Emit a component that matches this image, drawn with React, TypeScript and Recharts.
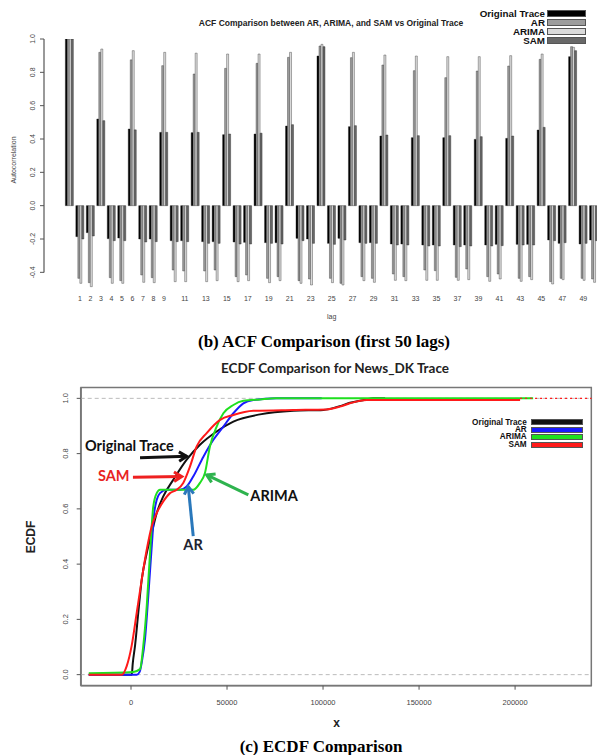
import React from "react";
import {
  BarChart, Bar, LineChart, Line, XAxis, YAxis,
  ReferenceLine, ReferenceDot, ReferenceArea
} from "recharts";

// ---------- ACF data (lags 0..50) ----------
const lags = [
  0, 1, 2, 3, 4, 5, 6, 7, 8, 9, 10, 11, 12, 13, 14, 15, 16, 17, 18, 19, 20, 21, 22, 23, 24, 25,
  26, 27, 28, 29, 30, 31, 32, 33, 34, 35, 36, 37, 38, 39, 40, 41, 42, 43, 44, 45, 46, 47, 48, 49, 50,
];
const acfOriginal = [
  1, -0.186, -0.162, 0.52, -0.198, -0.194, 0.46, -0.2, -0.2, 0.44, -0.21, -0.21, 0.438, -0.216, -0.216,
  0.426, -0.218, -0.22, 0.43, -0.222, -0.222, 0.478, -0.196, -0.2, 0.898, -0.226, -0.196, 0.474, -0.222,
  -0.222, 0.418, -0.23, -0.23, 0.408, -0.236, -0.236, 0.408, -0.236, -0.236, 0.398, -0.236, -0.232, 0.404,
  -0.232, -0.232, 0.454, -0.206, -0.226, 0.894, -0.23, -0.206,
];
const acfAr = [
  1, -0.436, -0.462, 0.92, -0.432, -0.45, 0.875, -0.416, -0.432, 0.84, -0.386, -0.392, 0.79, -0.392, -0.386,
  0.824, -0.426, -0.416, 0.854, -0.436, -0.426, 0.89, -0.45, -0.44, 0.958, -0.436, -0.466, 0.888, -0.426,
  -0.436, 0.844, -0.41, -0.426, 0.81, -0.386, -0.39, 0.768, -0.43, -0.38, 0.808, -0.426, -0.41, 0.838,
  -0.436, -0.426, 0.878, -0.456, -0.436, 0.954, -0.436, -0.44,
];
const acfArima = [
  1, -0.466, -0.486, 0.94, -0.466, -0.466, 0.93, -0.46, -0.462, 0.92, -0.456, -0.456, 0.915, -0.456, -0.45,
  0.91, -0.456, -0.45, 0.91, -0.462, -0.45, 0.92, -0.466, -0.476, 0.968, -0.462, -0.476, 0.92, -0.45,
  -0.46, 0.904, -0.448, -0.45, 0.898, -0.448, -0.448, 0.894, -0.448, -0.444, 0.894, -0.454, -0.44, 0.9,
  -0.454, -0.444, 0.91, -0.47, -0.444, 0.95, -0.448, -0.46,
];
const acfSam = [
  1, -0.2, -0.182, 0.51, -0.21, -0.21, 0.455, -0.218, -0.216, 0.44, -0.216, -0.216, 0.44, -0.226, -0.226,
  0.43, -0.23, -0.23, 0.435, -0.226, -0.23, 0.486, -0.21, -0.226, 0.954, -0.232, -0.206, 0.48, -0.226,
  -0.226, 0.424, -0.236, -0.236, 0.42, -0.242, -0.242, 0.42, -0.246, -0.242, 0.414, -0.242, -0.24, 0.418,
  -0.236, -0.236, 0.47, -0.21, -0.222, 0.93, -0.226, -0.21,
];
const lagTickLabels = [
  "1", "2", "3", "4", "5", "6", "7", "8", "9", "11", "13", "15", "17", "19", "21", "23", "25", "27",
  "29", "31", "33", "35", "37", "39", "41", "43", "45", "47", "49",
];
const acfTicks = [-0.4, -0.2, 0, 0.2, 0.4, 0.6, 0.8, 1.0];

const seriesNames = ["Original Trace", "AR", "ARIMA", "SAM"];
const acfColors = ["#000000", "#9c9c9c", "#dadada", "#686868"];

// ---------- ECDF data ([x, F(x)]) ----------
const ecdfOriginal = [
  [-22000, 0], [400, 0], [900, 0.04], [2100, 0.105], [3800, 0.225], [5600, 0.345], [8200, 0.44],
  [10800, 0.513], [13400, 0.585], [16800, 0.645], [22000, 0.705], [29000, 0.778], [35900, 0.832],
  [44600, 0.88], [53300, 0.916], [67200, 0.942], [84500, 0.955], [100200, 0.958], [108800, 0.972],
  [114000, 0.984], [119300, 0.991], [122700, 0.996], [126000, 1], [132300, 1],
];
const ecdfAr = [
  [-22000, 0], [3000, 0], [4500, 0.01], [5600, 0.045], [7300, 0.129], [9000, 0.285], [10800, 0.465],
  [12100, 0.585], [13400, 0.633], [15100, 0.657], [18600, 0.669], [25500, 0.669], [29000, 0.681],
  [32400, 0.717], [37700, 0.789], [42900, 0.85], [48100, 0.898], [53300, 0.946], [58500, 0.982],
  [63700, 0.994], [75900, 1], [99300, 1],
];
const ecdfArima = [
  [-22000, 0.005], [1200, 0.01], [4700, 0.02], [6400, 0.105], [8200, 0.249], [9900, 0.44], [11600, 0.609],
  [13400, 0.657], [15100, 0.669], [32400, 0.669], [35900, 0.694], [38500, 0.73], [41100, 0.826],
  [44600, 0.898], [48100, 0.946], [53300, 0.976], [58500, 0.991], [67200, 0.996], [75000, 1], [209400, 1],
];
const ecdfSam = [
  [-22000, 0], [-4800, 0], [-2200, 0.032], [350, 0.105], [3000, 0.225], [5600, 0.345], [8200, 0.453],
  [10800, 0.537], [13400, 0.585], [16800, 0.627], [20300, 0.657], [23800, 0.669], [27200, 0.694],
  [30700, 0.753], [34200, 0.826], [39400, 0.874], [46400, 0.922], [53300, 0.94], [63700, 0.955],
  [84500, 0.958], [101900, 0.96], [108800, 0.97], [114000, 0.982], [122700, 0.994], [202600, 0.994],
];
const ecdfSamTail = [[202600, 1], [239900, 1]];
const ecdfXTicks = [0, 50000, 100000, 150000, 200000];
const ecdfYTicks = [0, 0.2, 0.4, 0.6, 0.8, 1.0];
const ecdfColors = ["#111111", "#1a1aff", "#1fe01f", "#ff1a1a"];

const acfData = lags.map((lag, i) => ({
  lag,
  original: acfOriginal[i],
  ar: acfAr[i],
  arima: acfArima[i],
  sam: acfSam[i],
}));
const pts = (arr: number[][]) => arr.map(([x, y]) => ({ x, y }));

// annotation arrows on the ECDF panel (data coords)
const arrows = [
  { from: [4700, 0.785], to: [29000, 0.79], color: "#111111" },
  { from: [1000, 0.714], to: [26400, 0.717], color: "#ee2020" },
  { from: [32400, 0.501], to: [29800, 0.681], color: "#2a78bb" },
  { from: [61100, 0.651], to: [39400, 0.723], color: "#2eb34e" },
];
const callouts = [
  { text: "Original Trace", at: [-23960, 0.828], color: "#111111", anchor: "start" },
  { text: "SAM", at: [-17200, 0.721], color: "#e8231f", anchor: "start" },
  { text: "AR", at: [32300, 0.471], color: "#1e2430", anchor: "middle" },
  { text: "ARIMA", at: [74500, 0.648], color: "#111111", anchor: "middle" },
];

const sans = "'Liberation Sans', Arial, sans-serif";
const serif = "'Liberation Serif', 'Times New Roman', serif";

function RotTick(props: any) {
  const { x, y, payload, fontSize } = props;
  return (
    <text x={x} y={y} transform={`rotate(-90, ${x}, ${y})`} textAnchor="middle" dy="0.35em"
      fontSize={fontSize} fill="#444" fontFamily={sans}>
      {Number(payload.value).toFixed(1)}
    </text>
  );
}

function arrowShape(color: string) {
  return (p: any) => {
    const x1 = Number(p.x1), y1 = Number(p.y1), x2 = Number(p.x2), y2 = Number(p.y2);
    const ang = Math.atan2(y2 - y1, x2 - x1);
    const L = 9, w = 0.55;
    const ax = x2 - L * Math.cos(ang - w), ay = y2 - L * Math.sin(ang - w);
    const bx = x2 - L * Math.cos(ang + w), by = y2 - L * Math.sin(ang + w);
    return (
      <g>
        <line x1={x1} y1={y1} x2={x2} y2={y2} stroke={color} strokeWidth={3} />
        <polyline points={`${ax},${ay} ${x2},${y2} ${bx},${by}`} fill="none" stroke={color} strokeWidth={3} />
      </g>
    );
  };
}

function Txt({ x, y, children, style, rotate }: any) {
  return (
    <div style={{
      position: "absolute", left: x, top: y, whiteSpace: "nowrap", lineHeight: 1,
      transform: `translate(-50%, -50%)${rotate ? " rotate(-90deg)" : ""}`, ...style,
    }}>
      {children}
    </div>
  );
}

function LegendBlock({ textRight, boxLeft, boxWidth, boxHeight, firstY, pitch, fontSize, colors }: any) {
  return (
    <>
      {seriesNames.map((name, i) => {
        const cy = firstY + i * pitch;
        return (
          <React.Fragment key={name}>
            <div style={{
              position: "absolute", right: 597 - textRight, top: cy - pitch / 2, height: pitch,
              lineHeight: `${pitch}px`, fontSize, fontWeight: 700, fontFamily: sans, color: "#111",
              whiteSpace: "nowrap", overflow: "visible",
            }}>{name}</div>
            <div style={{
              position: "absolute", left: boxLeft, top: cy - boxHeight / 2, width: boxWidth, height: boxHeight,
              background: colors[i], border: "1px solid #555", boxSizing: "border-box",
            }} />
          </React.Fragment>
        );
      })}
    </>
  );
}

export default function App() {
  return (
    <div style={{
      position: "absolute", left: 0, top: 0, width: 597, height: 755, overflow: "hidden",
      background: "#fff", fontFamily: sans,
    }}>
      {/* ACF panel */}
      <div style={{ position: "absolute", left: 0, top: 0 }}>
        <BarChart width={599} height={330} data={acfData} margin={{ top: 39, right: 0, bottom: 11, left: 0 }}
          barCategoryGap="10%" barGap={0}>
          <XAxis dataKey="lag" interval={0} tickLine={false} axisLine={false} tickSize={0} tickMargin={7}
            height={30} padding={{ left: 20.3, right: 0 }}
            tick={{ fontSize: 7, fill: "#444", fontFamily: sans }}
            tickFormatter={(v) => (lagTickLabels.includes(String(v)) ? String(v) : "")} />
          <YAxis domain={[-0.5, 1]} ticks={acfTicks} width={44} allowDataOverflow tickSize={4} tickMargin={7.6}
            axisLine={{ stroke: "#777", strokeWidth: 1.5, strokeDasharray: "233.4 100" }}
            tickLine={{ stroke: "#555" }}
            tick={<RotTick fontSize={7} />} />
          <Bar dataKey="original" name={seriesNames[0]} fill={acfColors[0]} stroke="#222" strokeWidth={0.4} isAnimationActive={false} />
          <Bar dataKey="ar" name={seriesNames[1]} fill={acfColors[1]} stroke="#333" strokeWidth={0.4} isAnimationActive={false} />
          <Bar dataKey="arima" name={seriesNames[2]} fill={acfColors[2]} stroke="#333" strokeWidth={0.4} isAnimationActive={false} />
          <Bar dataKey="sam" name={seriesNames[3]} fill={acfColors[3]} stroke="#222" strokeWidth={0.4} isAnimationActive={false} />
        </BarChart>
      </div>
      <Txt x={331} y={22.7} style={{ fontSize: 8.5, fontWeight: 700, color: "#222" }}>
        ACF Comparison between AR, ARIMA, and SAM vs Original Trace
      </Txt>
      <LegendBlock textRight={545} boxLeft={546.7} boxWidth={39.3} boxHeight={7} firstY={13.3} pitch={9.2}
        fontSize={9.8} colors={acfColors} />
      <Txt x={13.3} y={160} rotate style={{ fontSize: 7, color: "#444" }}>Autocorrelation</Txt>
      <Txt x={331.7} y={315.7} style={{ fontSize: 7, color: "#444" }}>lag</Txt>
      <Txt x={324} y={341} style={{ fontSize: 17, fontWeight: 700, fontFamily: serif, color: "#000" }}>
        (b) ACF Comparison (first 50 lags)
      </Txt>

      {/* ECDF panel */}
      <Txt x={335} y={369} style={{ fontSize: 13.5, fontWeight: 700, fontFamily: "Lato, sans-serif", color: "#222" }}>
        ECDF Comparison for News_DK Trace
      </Txt>
      <div style={{ position: "absolute", left: 0, top: 360 }}>
        <LineChart width={597} height={380} margin={{ top: 27.3, right: 5.3, bottom: 14.3, left: 0 }}>
          <XAxis type="number" dataKey="x" domain={[-26200, 239900]} ticks={ecdfXTicks} allowDataOverflow
            axisLine={{ stroke: "#777", strokeWidth: 1.5 }} tickSize={4} tickMargin={10} height={40}
            tickLine={{ stroke: "#555" }} tick={{ fontSize: 7.5, fill: "#444", fontFamily: sans }} />
          <YAxis type="number" dataKey="y" domain={[-0.04, 1.04]} ticks={ecdfYTicks} allowDataOverflow
            width={80.7} axisLine={{ stroke: "#777", strokeWidth: 1.5 }} tickSize={4} tickMargin={11.7}
            tickLine={{ stroke: "#555" }} tick={<RotTick fontSize={7.5} />} />
          {/* plot frame */}
          <ReferenceArea x1={-26000} x2={239700} y1={-0.039} y2={1.039} fill="#ffffff" fillOpacity={0}
            stroke="#777" strokeWidth={1.5} />
          <ReferenceLine y={0} stroke="#bbbbbb" strokeDasharray="4 3" />
          <ReferenceLine y={1} stroke="#bbbbbb" strokeDasharray="4 3" />
          <Line data={pts(ecdfOriginal)} dataKey="y" name={seriesNames[0]} type="monotone" stroke={ecdfColors[0]}
            strokeWidth={2} dot={false} isAnimationActive={false} />
          <Line data={pts(ecdfAr)} dataKey="y" name={seriesNames[1]} type="monotone" stroke={ecdfColors[1]}
            strokeWidth={2} dot={false} isAnimationActive={false} />
          <Line data={pts(ecdfArima)} dataKey="y" name={seriesNames[2]} type="monotone" stroke={ecdfColors[2]}
            strokeWidth={2} dot={false} isAnimationActive={false} />
          <Line data={pts(ecdfSam)} dataKey="y" name={seriesNames[3]} type="monotone" stroke={ecdfColors[3]}
            strokeWidth={2} dot={false} isAnimationActive={false} />
          <Line data={pts(ecdfSamTail)} dataKey="y" name="SAM tail" type="linear" stroke={ecdfColors[3]}
            strokeWidth={1.2} strokeDasharray="2 3" dot={false} isAnimationActive={false} />
          {arrows.map((a, i) => (
            <ReferenceLine key={i} segment={[{ x: a.from[0], y: a.from[1] }, { x: a.to[0], y: a.to[1] }]}
              stroke={a.color} shape={arrowShape(a.color)} />
          ))}
          {callouts.map((c) => (
            <ReferenceDot key={c.text} x={c.at[0]} y={c.at[1]} r={0}
              shape={(p: any) => (
                <text x={p.cx} y={p.cy} dy="0.35em" textAnchor={c.anchor} fill={c.color} fontSize={14.5}
                  fontWeight={700} fontFamily="Lato, sans-serif">{c.text}</text>
              )} />
          ))}
        </LineChart>
      </div>
      <LegendBlock textRight={526.7} boxLeft={530.7} boxWidth={52.6} boxHeight={6} firstY={422.3} pitch={7.4}
        fontSize={8.2} colors={ecdfColors} />
      <Txt x={31} y={537} rotate style={{ fontSize: 12, fontWeight: 700, color: "#222" }}>ECDF</Txt>
      <Txt x={336.7} y={722.7} style={{ fontSize: 12, fontWeight: 700, color: "#222" }}>x</Txt>
      <Txt x={321} y={746} style={{ fontSize: 17, fontWeight: 700, fontFamily: serif, color: "#000" }}>
        (c) ECDF Comparison
      </Txt>
    </div>
  );
}
